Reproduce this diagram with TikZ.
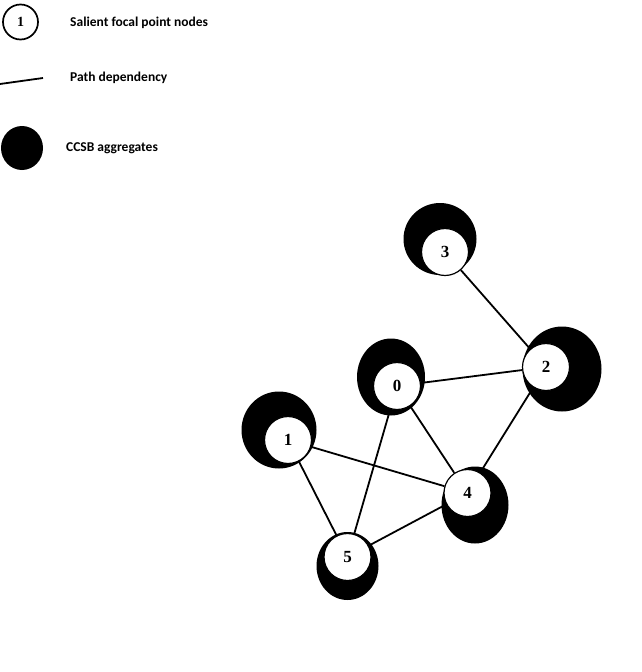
\documentclass[tikz,border=0pt]{standalone}
\usepackage{fontspec}
\usetikzlibrary{shapes.geometric}
\newfontfamily\legfont{Carlito}
\newfontfamily\numfont{Liberation Serif}
\tikzset{
  agg/.style={ellipse, fill=black, inner sep=0pt},
  focal/.style={circle, draw=black, line width=1.2pt, fill=white, inner sep=0pt,
    minimum size=47pt, font=\numfont\bfseries\fontsize{17}{17}\selectfont},
  legfocal/.style={circle, draw=black, line width=1.7pt, fill=white, inner sep=0pt,
    minimum size=35pt, font=\numfont\bfseries\fontsize{14}{14}\selectfont},
  legtext/.style={anchor=west, inner sep=0pt, font=\legfont\bfseries\fontsize{13.5}{14}\selectfont},
  dep/.style={line width=1.8pt, draw=black},
}
\begin{document}
\begin{tikzpicture}[x=1pt,y=-1pt]
\useasboundingbox (0,0) rectangle (642,672);
% legend
\node[legfocal] (lc) at (20.5,22) {1};
\node[legtext] (lt1) at (70,23) {Salient focal point nodes};
\coordinate (la) at (0,84);
\coordinate (lb) at (43,78);
\draw[dep] (la) -- (lb);
\node[legtext] (lt2) at (70,78) {Path dependency};
\node[agg, minimum width=42pt, minimum height=44pt] (lag) at (22,148) {};
\node[legtext] (lt3) at (66,148) {CCSB aggregates};
% aggregates
\node[agg, minimum width=73pt, minimum height=72pt] (a3) at (440,239) {};
\node[agg, minimum width=79pt, minimum height=85pt] (a2) at (562,369) {};
\node[agg, minimum width=68pt, minimum height=77pt] (a0) at (391,377) {};
\node[agg, minimum width=75pt, minimum height=77pt] (a1) at (279,430) {};
\node[agg, minimum width=67pt, minimum height=77pt] (a4) at (475,505) {};
\node[agg, minimum width=62pt, minimum height=68pt] (a5) at (347.5,566) {};
% focal nodes
\node[focal] (n3) at (445,252) {3};
\node[focal] (n2) at (546,367) {2};
\node[focal] (n0) at (397,386) {0};
\node[focal] (n1) at (288,440) {1};
\node[focal] (n4) at (467.5,493) {4};
\node[focal] (n5) at (347.5,557) {5};
% path dependencies
\draw[dep] (n3) -- (n2);
\draw[dep] (n0) -- (n2);
\draw[dep] (n0) -- (n4);
\draw[dep] (n0) -- (n5);
\draw[dep] (n2) -- (n4);
\draw[dep] (n1) -- (n4);
\draw[dep] (n1) -- (n5);
\draw[dep] (n4) -- (n5);
\end{tikzpicture}
\end{document}
